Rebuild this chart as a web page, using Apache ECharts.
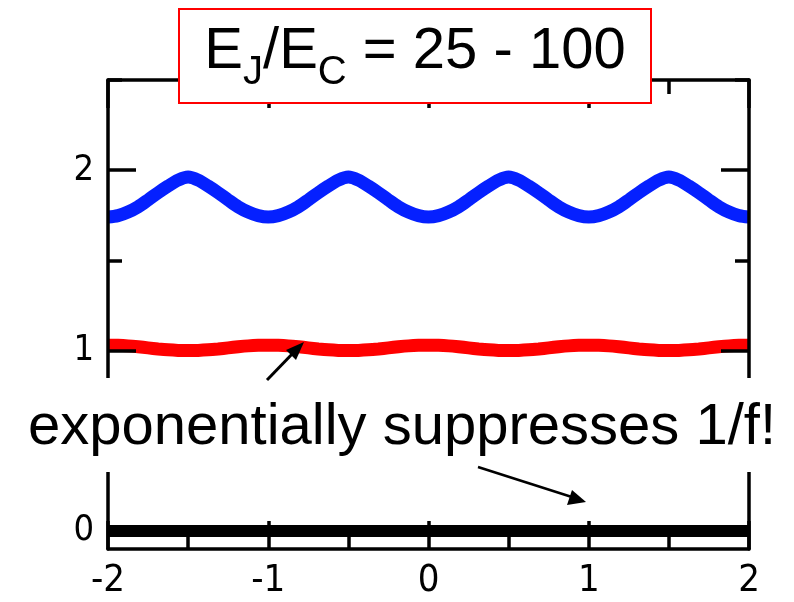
<!DOCTYPE html>
<html><head><meta charset="utf-8">
<script src="https://cdn.jsdelivr.net/npm/echarts@6/dist/echarts.min.js"></script>
<style>html,body{margin:0;padding:0;background:#fff}#c{width:794px;height:602px}</style>
</head><body><div id="c"></div>
<script>
// x positions (flux, in units of flux quantum), step 1/16
const xs = [-2,-1.9375,-1.875,-1.8125,-1.75,-1.6875,-1.625,-1.5625,-1.5,-1.4375,-1.375,-1.3125,-1.25,-1.1875,-1.125,-1.0625,
            -1,-0.9375,-0.875,-0.8125,-0.75,-0.6875,-0.625,-0.5625,-0.5,-0.4375,-0.375,-0.3125,-0.25,-0.1875,-0.125,-0.0625,
             0,0.0625,0.125,0.1875,0.25,0.3125,0.375,0.4375,0.5,0.5625,0.625,0.6875,0.75,0.8125,0.875,0.9375,
             1,1.0625,1.125,1.1875,1.25,1.3125,1.375,1.4375,1.5,1.5625,1.625,1.6875,1.75,1.8125,1.875,1.9375,2];
// second excited level (blue)
const blueVals = [
 1.740,1.748,1.768,1.797,1.835,1.875,1.912,1.945,1.962,1.945,1.912,1.875,1.835,1.797,1.768,1.748,
 1.740,1.748,1.768,1.797,1.835,1.875,1.912,1.945,1.962,1.945,1.912,1.875,1.835,1.797,1.768,1.748,
 1.740,1.748,1.768,1.797,1.835,1.875,1.912,1.945,1.962,1.945,1.912,1.875,1.835,1.797,1.768,1.748,
 1.740,1.748,1.768,1.797,1.835,1.875,1.912,1.945,1.962,1.945,1.912,1.875,1.835,1.797,1.768,1.748,1.740];
// first excited level (red)
const redVals = [
 1.030,1.029,1.026,1.021,1.015,1.009,1.004,1.001,1.000,1.001,1.004,1.009,1.015,1.021,1.026,1.029,
 1.030,1.029,1.026,1.021,1.015,1.009,1.004,1.001,1.000,1.001,1.004,1.009,1.015,1.021,1.026,1.029,
 1.030,1.029,1.026,1.021,1.015,1.009,1.004,1.001,1.000,1.001,1.004,1.009,1.015,1.021,1.026,1.029,
 1.030,1.029,1.026,1.021,1.015,1.009,1.004,1.001,1.000,1.001,1.004,1.009,1.015,1.021,1.026,1.029,1.030];
// ground level (black)
const blackVals = xs.map(() => 0);
const yMajorTicks = [0,1,2];
const yMinorTicks = [0.5,1.5,2.5];
const titleParts = ['E','J','/E','C',' = 25 - 100'];
const noteText = 'exponentially suppresses 1/f!';

const pairs = v => xs.map((x,i)=>[x,v[i]]);
const AX = '#000';
const numFont = '"Liberation Sans Narrow","DejaVu Sans Condensed",sans-serif';

function yAx(pos, ticks, len, showLine, showLabel){
  return {
    type:'value', position:pos, min:-0.1, max:2.5, z:10,
    axisLine:{show:showLine, onZero:false, lineStyle:{color:AX,width:3.5}},
    axisTick:{show:true, inside:true, length:len, customValues:ticks, lineStyle:{color:AX,width:3.5}},
    axisLabel:{show:showLabel, customValues:ticks, color:'#000', fontSize:36, fontFamily:numFont, margin:14},
    splitLine:{show:false}
  };
}
function xAx(pos, showLabel){
  return {
    type:'value', position:pos, min:-2, max:2, interval:1, z:10,
    axisLine:{show:true, onZero:false, lineStyle:{color:AX,width:3.5}},
    axisTick:{show:true, inside:true, length:28, lineStyle:{color:AX,width:3.5}},
    minorTick:{show:true, splitNumber:2, length:14, lineStyle:{color:AX,width:3.5}},
    axisLabel:{show:showLabel, color:'#000', fontSize:38, fontFamily:numFont, margin:13},
    splitLine:{show:false}
  };
}

const chart = echarts.init(document.getElementById('c'), null, {renderer:'canvas'});
chart.setOption({
  backgroundColor:'#fff',
  animation:false,
  grid:{left:108, right:45, top:80, bottom:53, containLabel:false},
  xAxis:[xAx('bottom', true), xAx('top', false)],
  yAxis:[yAx('left', yMajorTicks, 28, true, true), yAx('left', yMinorTicks, 14, false, false),
         yAx('right', yMajorTicks, 28, true, false), yAx('right', yMinorTicks, 14, false, false)],
  series:[
    {type:'line', data:pairs(blackVals), showSymbol:false, lineStyle:{color:'#000', width:12}, clip:true, z:3},
    {type:'line', data:pairs(redVals), smooth:0.3, showSymbol:false, lineStyle:{color:'#ff0000', width:13}, clip:true, z:3},
    {type:'line', data:pairs(blueVals), smooth:0.3, showSymbol:false, lineStyle:{color:'#0520ff', width:13}, clip:true, z:3}
  ],
  graphic:[
    {type:'rect', z:100, shape:{x:0, y:378, width:794, height:94}, style:{fill:'#fff'}},
    {type:'text', z:101, x:402, y:428, style:{text:noteText, font:'58px "Liberation Sans", Arial, sans-serif', fill:'#000', align:'center', verticalAlign:'middle'}},
    {type:'rect', z:100, shape:{x:179, y:9, width:472, height:94}, style:{fill:'#fff', stroke:'#ff0000', lineWidth:2}},
    {type:'text', z:101, x:415, y:58, style:{
      text:'{m|'+titleParts[0]+'}{s|'+titleParts[1]+'}{m|'+titleParts[2]+'}{s|'+titleParts[3]+'}{m|'+titleParts[4]+'}',
      align:'center', verticalAlign:'middle',
      rich:{
        m:{fontSize:58, fontFamily:'"Liberation Sans", Arial, sans-serif', fill:'#000', verticalAlign:'bottom', padding:[0,0,12,0]},
        s:{fontSize:40, fontFamily:'"Liberation Sans", Arial, sans-serif', fill:'#000', verticalAlign:'bottom'}
      }}},
    // arrows
    {type:'line', z:101, shape:{x1:267, y1:380, x2:296, y2:350}, style:{stroke:'#000', lineWidth:3}},
    {type:'polygon', z:101, shape:{points:[[304,342],[286,350],[296,360]]}, style:{fill:'#000'}},
    {type:'line', z:101, shape:{x1:478, y1:467, x2:575, y2:498}, style:{stroke:'#000', lineWidth:2.5}},
    {type:'polygon', z:101, shape:{points:[[586,502],[567,505],[572,490]]}, style:{fill:'#000'}}
  ]
});
</script></body></html>
